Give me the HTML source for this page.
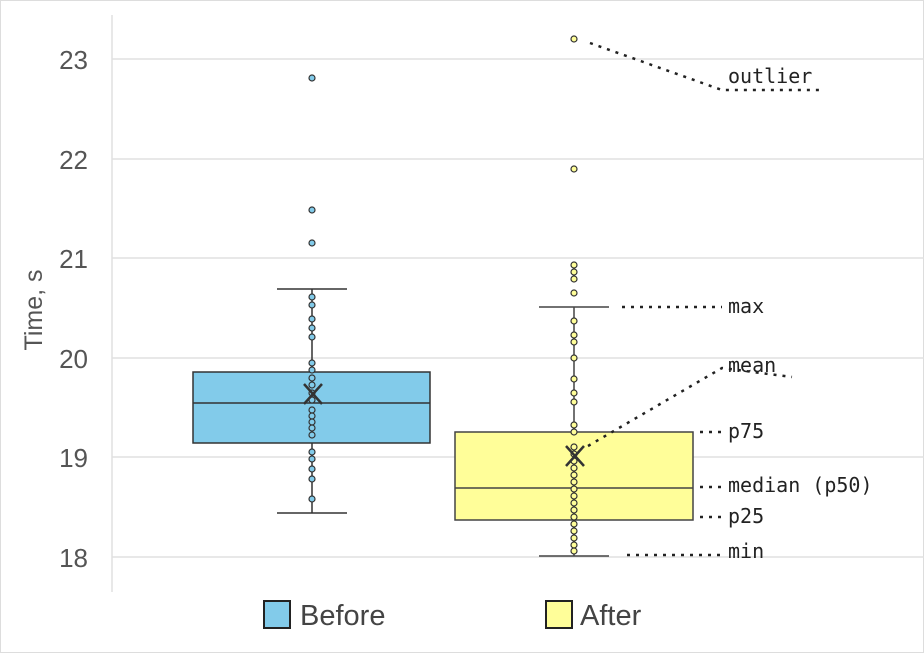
<!DOCTYPE html>
<html><head><style>body{margin:0;background:#fff}</style></head><body>
<svg width="924" height="653" xmlns="http://www.w3.org/2000/svg" font-family="Liberation Sans, DejaVu Sans, sans-serif">
<rect x="0.5" y="0.5" width="923" height="652" fill="#fff" stroke="#ddd"/>
<g stroke="#e0e0e0" stroke-width="1.5">
<line x1="112" x2="924" y1="59" y2="59"/><line x1="112" x2="924" y1="159" y2="159"/><line x1="112" x2="924" y1="258" y2="258"/><line x1="112" x2="924" y1="358" y2="358"/><line x1="112" x2="924" y1="457" y2="457"/><line x1="112" x2="924" y1="557" y2="557"/>
<line x1="112" x2="112" y1="15" y2="592"/>
</g>
<g fill="#555" font-size="26" text-anchor="end">
<text x="88" y="69">23</text><text x="88" y="169">22</text><text x="88" y="268">21</text><text x="88" y="368">20</text><text x="88" y="467">19</text><text x="88" y="567">18</text>
</g>
<text transform="translate(42,310) rotate(-90)" fill="#555" font-size="25" text-anchor="middle">Time, s</text>
<!-- Before -->
<g stroke="#333" stroke-width="1.5">
<line x1="312" x2="312" y1="289" y2="513"/>
<line x1="277" x2="347" y1="289" y2="289"/><line x1="277" x2="347" y1="513" y2="513"/>
<rect x="193" y="372" width="237" height="71" fill="#82cbea"/>
<line x1="193" x2="430" y1="403" y2="403"/>
</g>
<g fill="#82cbea" stroke="#333" stroke-width="1.2">
<circle cx="312" cy="78" r="3"/><circle cx="312" cy="210" r="3"/><circle cx="312" cy="243" r="3"/><circle cx="312" cy="297" r="3"/><circle cx="312" cy="305" r="3"/><circle cx="312" cy="319" r="3"/><circle cx="312" cy="328" r="3"/><circle cx="312" cy="337" r="3"/><circle cx="312" cy="363" r="3"/><circle cx="312" cy="370" r="3"/><circle cx="312" cy="378" r="3"/><circle cx="312" cy="385" r="3"/><circle cx="312" cy="393" r="3"/><circle cx="312" cy="400" r="3"/><circle cx="312" cy="410" r="3"/><circle cx="312" cy="416" r="3"/><circle cx="312" cy="422" r="3"/><circle cx="312" cy="428" r="3"/><circle cx="312" cy="435" r="3"/><circle cx="312" cy="452" r="3"/><circle cx="312" cy="459" r="3"/><circle cx="312" cy="469" r="3"/><circle cx="312" cy="479" r="3"/><circle cx="312" cy="499" r="3"/>
</g>
<g stroke="#333" stroke-width="2.5"><line x1="304" y1="384" x2="322" y2="404"/><line x1="322" y1="384" x2="304" y2="404"/></g>
<!-- After -->
<g stroke="#444" stroke-width="1.5">
<line x1="574" x2="574" y1="307" y2="556"/>
<line x1="539" x2="609" y1="307" y2="307"/><line x1="539" x2="609" y1="556" y2="556"/>
<rect x="455" y="432" width="238" height="88" fill="#fffe99"/>
<line x1="455" x2="693" y1="488" y2="488"/>
</g>
<g fill="#fffe99" stroke="#333" stroke-width="1.2">
<circle cx="574" cy="39" r="3"/><circle cx="574" cy="169" r="3"/><circle cx="574" cy="265" r="3"/><circle cx="574" cy="272" r="3"/><circle cx="574" cy="279" r="3"/><circle cx="574" cy="293" r="3"/><circle cx="574" cy="321" r="3"/><circle cx="574" cy="335" r="3"/><circle cx="574" cy="342" r="3"/><circle cx="574" cy="358" r="3"/><circle cx="574" cy="379" r="3"/><circle cx="574" cy="393" r="3"/><circle cx="574" cy="402" r="3"/><circle cx="574" cy="425" r="3"/><circle cx="574" cy="432" r="3"/>
<circle cx="574" cy="447" r="3"/><circle cx="574" cy="454" r="3"/><circle cx="574" cy="461" r="3"/><circle cx="574" cy="468" r="3"/><circle cx="574" cy="475" r="3"/><circle cx="574" cy="482" r="3"/><circle cx="574" cy="489" r="3"/><circle cx="574" cy="496" r="3"/><circle cx="574" cy="503" r="3"/><circle cx="574" cy="510" r="3"/><circle cx="574" cy="517" r="3"/><circle cx="574" cy="524" r="3"/><circle cx="574" cy="531" r="3"/><circle cx="574" cy="538" r="3"/><circle cx="574" cy="545" r="3"/><circle cx="574" cy="551" r="3"/>
</g>
<g stroke="#333" stroke-width="2.5"><line x1="566" y1="446" x2="584" y2="466"/><line x1="584" y1="446" x2="566" y2="466"/></g>
<!-- annotations -->
<g stroke="#222" stroke-width="2.5" stroke-dasharray="3,6" fill="none">
<polyline points="590,43 722,90 822,90"/>
<line x1="622" y1="307" x2="722" y2="307"/>
<polyline points="588,446 722,368 792,377"/>
<line x1="700" y1="432" x2="722" y2="432"/>
<line x1="700" y1="487" x2="722" y2="487"/>
<line x1="700" y1="517" x2="722" y2="517"/>
<line x1="627" y1="555" x2="722" y2="555"/>
</g>
<g fill="#222" font-size="20" font-family="DejaVu Sans Mono, Liberation Mono, monospace">
<text x="728" y="83">outlier</text>
<text x="728" y="313">max</text>
<text x="728" y="372">mean</text>
<text x="728" y="438">p75</text>
<text x="728" y="492">median (p50)</text>
<text x="728" y="523">p25</text>
<text x="728" y="558">min</text>
</g>
<!-- legend -->
<rect x="264" y="601" width="26" height="27" fill="#82cbea" stroke="#222" stroke-width="2"/>
<text x="300" y="625" font-size="29" fill="#444">Before</text>
<rect x="546" y="601" width="26" height="27" fill="#fffe99" stroke="#222" stroke-width="2"/>
<text x="580" y="625" font-size="29" fill="#444">After</text>
</svg>
</body></html>
